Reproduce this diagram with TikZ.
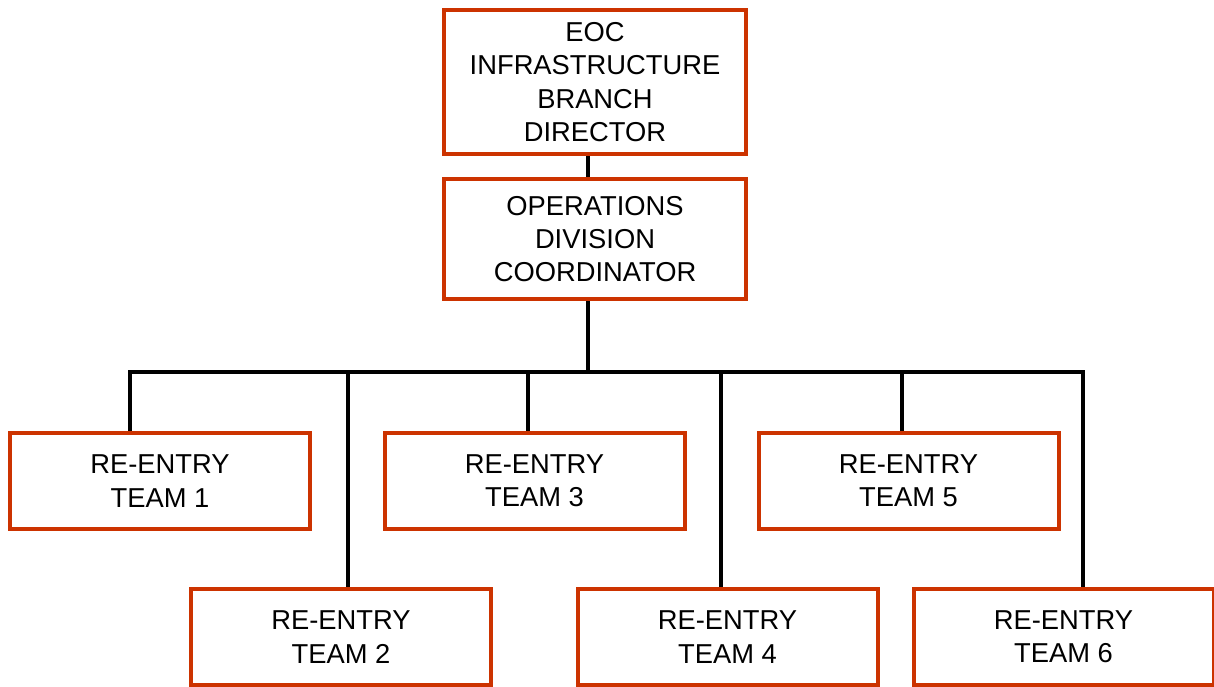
\documentclass[tikz,border=0pt]{standalone}
\usepackage{fontspec}
\setmainfont{Liberation Sans}
\usetikzlibrary{positioning,calc,backgrounds}
\definecolor{boxred}{RGB}{204,51,0}
\tikzset{
    orgbox/.style={draw=boxred, line width=3pt, align=center, inner sep=0pt, font=\fontsize{20.5}{25}\selectfont},
    link/.style={draw=black, line width=2.6pt},
}

\begin{document}
\begin{tikzpicture}[x=0.75pt, y=-0.75pt]
    \useasboundingbox (0,0) rectangle (1214,686);
    \node[orgbox, minimum width=226.5pt, minimum height=108pt] (dir) at (595,82) {EOC\\INFRASTRUCTURE\\BRANCH\\DIRECTOR};
    \node[orgbox, minimum width=226.5pt, minimum height=90pt] (coord) at (595,239) {OPERATIONS\\DIVISION\\COORDINATOR};
    \foreach[count=\i] \tx/\ty/\bx in {160/481/130, 341/637/348, 534.5/481/528, 727.5/637/721, 908.5/481/902, 1063.5/637/1083} {
        \node[orgbox, minimum width=225pt, minimum height=72pt] (team-\i) at (\tx,\ty) {RE-ENTRY\\TEAM \i};
        \coordinate (bus-\i) at (\bx,372);
    }
    \coordinate (stem) at (588,372);

    \begin{scope}[on background layer]
    \draw[link] (dir.south -| stem) -- (coord.north -| stem);
    \draw[link] (coord.south -| stem) -- (stem);
    \draw[link] (bus-1 |- team-1.north) -- (bus-1) -- (bus-6) -- (bus-6 |- team-6.north);
    \foreach \i in {2,...,5}
        \draw[link] (bus-\i) -- (bus-\i |- team-\i.north);
    \end{scope}
\end{tikzpicture}
\end{document}
